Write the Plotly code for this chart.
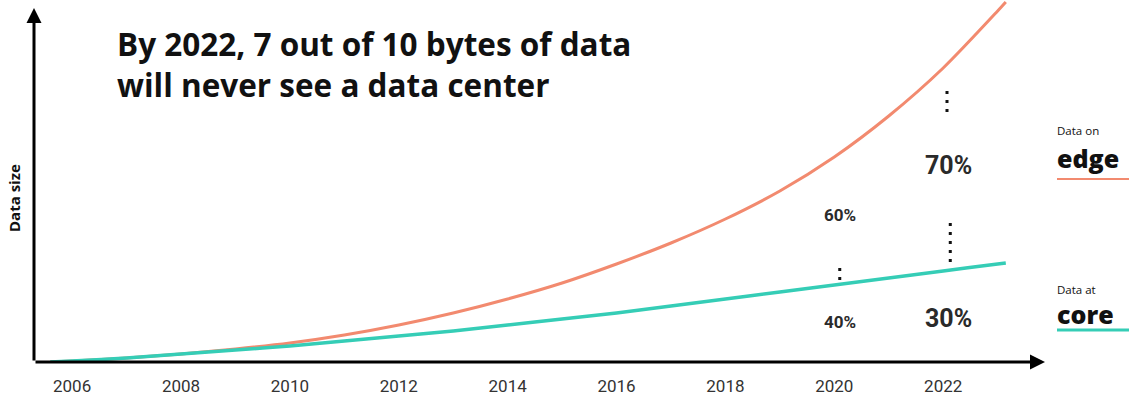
import plotly.graph_objects as go

# ---- data ----
years = [2005.6, 2006, 2007, 2008, 2009, 2010, 2011, 2012, 2013, 2014, 2015,
         2016, 2017, 2018, 2019, 2020, 2021, 2022, 2023, 2023.15]
edge_size = [0, 1, 4, 8, 13, 19, 27, 37, 49, 63, 79,
             98, 119, 143, 171, 205, 246, 294, 351, 360]
core_size = [0, 1, 4, 8, 12, 16, 21, 26, 31, 37, 43,
             49, 56, 63, 70, 77, 84, 91, 98, 99]
tick_years = [2006, 2008, 2010, 2012, 2014, 2016, 2018, 2020, 2022]
title_lines = ["By 2022, 7 out of 10 bytes of data", "will never see a data center"]
pct_labels = [(2020.1, 147, "60%", 17), (2020.1, 40, "40%", 17),
              (2022.1, 197, "70%", 25), (2022.1, 44, "30%", 25)]
dot_marks = [(2020.1, 82, 100), (2022.07, 250, 277), (2022.13, 100, 142)]

EDGE = "#F28A6F"
CORE = "#35CDB6"
TXT = "#2a2a2a"
COND = "Liberation Sans Narrow, Roboto, sans-serif"

W, H = 1129, 403
ML, MR, MT, MB = 34, 84, 0, 41
X0, X1 = 2005.30, 2023.87
Y0, Y1 = 0, 362


def px(xp):
    return (xp - ML) / (W - ML - MR)


def py(yp):
    return (H - MB - yp) / (H - MT - MB)


fig = go.Figure()
fig.add_trace(go.Scatter(x=years, y=edge_size, mode="lines",
                         line=dict(color=EDGE, width=3, shape="spline", smoothing=0.8),
                         hoverinfo="skip"))
fig.add_trace(go.Scatter(x=years, y=core_size, mode="lines",
                         line=dict(color=CORE, width=3.5, shape="spline", smoothing=0.8),
                         hoverinfo="skip"))

ann = []
# axes with arrows
ann.append(dict(x=X1, y=0, ax=X0, ay=0, xref="x", yref="y", axref="x", ayref="y",
                showarrow=True, arrowhead=2, arrowsize=1, arrowwidth=3,
                arrowcolor="#000", text=""))
ann.append(dict(x=X0, y=Y1 - 8, ax=X0, ay=0, xref="x", yref="y", axref="x", ayref="y",
                showarrow=True, arrowhead=2, arrowsize=1, arrowwidth=3,
                arrowcolor="#000", text=""))
# title (one annotation, two lines)
ann.append(dict(x=px(115), y=py(63.5), xref="paper", yref="paper",
                xanchor="left", yanchor="middle", align="left", showarrow=False,
                text="<br>".join("<b>" + t + "</b>" for t in title_lines),
                font=dict(family="Open Sans", size=31.5, color="#111")))
# y title
ann.append(dict(x=px(14), y=py(198), xref="paper", yref="paper", textangle=-90,
                xanchor="center", yanchor="middle", showarrow=False,
                text="<b>Data size</b>",
                font=dict(family="Open Sans", size=15, color="#111")))
# percent labels
for xv, yv, t, s in pct_labels:
    ann.append(dict(x=xv, y=yv, xref="x", yref="y", showarrow=False,
                    text="<b>" + t + "</b>", xanchor="center", yanchor="middle",
                    font=dict(size=s, color=TXT, family=COND)))
# legend texts
leg = [("Data on", 130, 11.5, 400), ("edge", 158, 25, 800),
       ("Data at", 289, 11.5, 400), ("core", 314, 25, 800)]
for t, yp, s, wgt in leg:
    ann.append(dict(x=px(1055), y=py(yp), xref="paper", yref="paper",
                    xanchor="left", yanchor="middle", showarrow=False,
                    text=t,
                    font=dict(family="Open Sans", size=s, color="#111", weight=wgt)))

shapes = []
for xv, ya, yb in dot_marks:
    shapes.append(dict(type="line", xref="x", yref="y", x0=xv, x1=xv, y0=ya, y1=yb,
                       line=dict(color="#111", width=3, dash="3px,6px")))
shapes.append(dict(type="line", xref="paper", yref="paper", x0=px(1057), x1=px(1129),
                   y0=py(179), y1=py(179), line=dict(color=EDGE, width=2)))
shapes.append(dict(type="line", xref="paper", yref="paper", x0=px(1057), x1=px(1129),
                   y0=py(330), y1=py(330), line=dict(color=CORE, width=3)))

fig.update_layout(
    width=W, height=H,
    margin=dict(l=ML, r=MR, t=MT, b=MB),
    paper_bgcolor="white", plot_bgcolor="white",
    showlegend=False,
    annotations=ann, shapes=shapes,
    xaxis=dict(range=[X0, X1], showgrid=False, zeroline=False, showline=False,
               tickvals=tick_years, ticktext=[str(t) for t in tick_years],
               ticks="", ticklabelstandoff=12,
               tickfont=dict(size=17, color="#333", family=COND)),
    yaxis=dict(range=[Y0, Y1], showgrid=False, zeroline=False, showline=False,
               showticklabels=False, ticks=""),
)

fig.write_html("out.html", config={"displayModeBar": False},
               post_script="document.body.style.margin='0';document.body.style.overflow='hidden';")
